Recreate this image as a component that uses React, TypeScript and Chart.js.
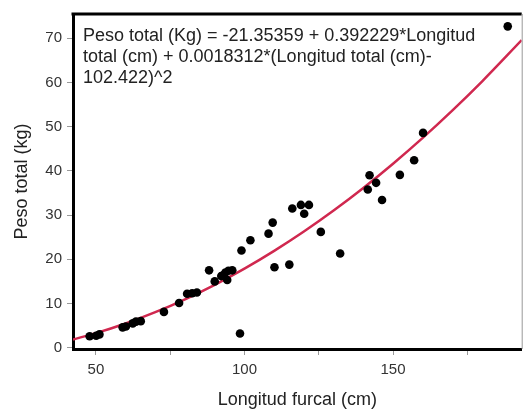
import React, { useEffect, useRef } from "react";
import { Chart, registerables } from "chart.js";

Chart.register(...registerables);

// Observed data: Longitud furcal (cm) vs Peso total (kg)
const lengthCm = [
  47.9, 50.1, 51.2, 59, 60.1, 62.4, 63.5, 65.1, 72.9, 78, 80.7, 82.4, 84,
  88.1, 90, 92.2, 92.8, 93.6, 94.2, 94.6, 95.9, 98.5, 99, 102, 108.1, 109.5,
  110.1, 115.1, 116.1, 119, 120.1, 121.7, 125.7, 132.2, 141.5, 142.1, 144.3,
  146.3, 152.3, 157.1, 160.1, 188.6,
];
const weightKg = [
  2.6, 2.7, 3.0, 4.6, 4.8, 5.5, 5.9, 6.0, 8.1, 10.1, 12.2, 12.3, 12.5,
  17.5, 15.0, 16.2, 16.4, 17.0, 15.3, 17.4, 17.5, 3.2, 22.0, 24.3, 25.8, 28.3,
  18.2, 18.8, 31.5, 32.3, 30.3, 32.3, 26.2, 21.3, 35.8, 39.0, 37.3,
  33.4, 39.1, 42.4, 48.6, 72.7,
];

// Fitted curve
const curveX = [42.3, 50, 60, 70, 80, 90, 100, 110, 120, 130, 140, 150, 160, 170, 180, 193.3];
const curveY = [1.86, 3.29, 5.48, 8.03, 10.95, 14.23, 17.88, 21.9, 26.28, 31.03, 36.14, 41.63, 47.47, 53.69, 60.27, 69.59];

const xTicks = [50, 75, 100, 125, 150, 175];
const xTickLabels = ["50", "", "100", "", "150", ""];
const yTicks = [0, 10, 20, 30, 40, 50, 60, 70];

const equationLines = [
  "Peso total (Kg) = -21.35359 + 0.392229*Longitud",
  "total (cm) + 0.0018312*(Longitud total (cm)-",
  "102.422)^2",
];

const FONT = "'Liberation Sans', Arial, Helvetica, sans-serif";

export default function App() {
  const ref = useRef<HTMLCanvasElement | null>(null);

  useEffect(() => {
    if (!ref.current) return;
    const framePlugin = {
      id: "frame",
      afterDraw(chart: any) {
        const { ctx, chartArea } = chart;
        ctx.save();
        ctx.strokeStyle = "#000";
        ctx.lineWidth = 3;
        ctx.beginPath();
        ctx.moveTo(chartArea.left - 1.5, chartArea.top);
        ctx.lineTo(chartArea.right, chartArea.top);
        ctx.stroke();
        ctx.strokeStyle = "#999";
        ctx.lineWidth = 1;
        ctx.beginPath();
        ctx.moveTo(chartArea.right + 0.5, chartArea.top);
        ctx.lineTo(chartArea.right + 0.5, chartArea.bottom);
        ctx.stroke();
        ctx.fillStyle = "#222";
        ctx.font = `18px ${FONT}`;
        ctx.textBaseline = "alphabetic";
        ctx.textAlign = "left";
        equationLines.forEach((line, i) => {
          ctx.fillText(line, chartArea.left + 10, 40.5 + i * 21.4);
        });
        ctx.restore();
      },
    };

    const chart = new Chart(ref.current, {
      type: "scatter",
      data: {
        datasets: [
          {
            type: "scatter",
            data: lengthCm.map((x, i) => ({ x, y: weightKg[i] })),
            backgroundColor: "#000",
            borderColor: "#000",
            pointRadius: 4.3,
            pointBorderWidth: 0,
            order: 1,
          },
          {
            type: "line",
            data: curveX.map((x, i) => ({ x, y: curveY[i] })),
            borderColor: "#d0284f",
            borderWidth: 2.5,
            pointRadius: 0,
            fill: false,
            cubicInterpolationMode: "monotone",
            order: 2,
          } as any,
        ],
      },
      options: {
        animation: false,
        responsive: false,
        layout: { padding: { top: 8, right: 1, left: 0, bottom: 0 } },
        plugins: { legend: { display: false }, tooltip: { enabled: false } },
        scales: {
          x: {
            type: "linear",
            min: 42.3,
            max: 193.3,
            afterBuildTicks: (s: any) => {
              s.ticks = xTicks.map((v) => ({ value: v }));
            },
            afterFit: (s: any) => {
              s.height = 66;
            },
            ticks: {
              callback: (v: any) => {
                const idx = xTicks.indexOf(Number(v));
                return idx >= 0 ? xTickLabels[idx] : "";
              },
              font: { family: FONT, size: 15 },
              color: "#333",
              padding: 6,
              maxRotation: 0,
              autoSkip: false,
            },
            grid: { drawOnChartArea: false, tickLength: 6, tickColor: "#999", color: "#999" },
            border: { display: true, color: "#000", width: 3 },
            title: {
              display: true,
              text: "Longitud furcal (cm)",
              font: { family: FONT, size: 18 },
              color: "#222",
              padding: { top: 0, bottom: 4 },
            },
          },
          y: {
            type: "linear",
            min: -0.3,
            max: 75.5,
            afterBuildTicks: (s: any) => {
              s.ticks = yTicks.map((v) => ({ value: v }));
            },
            afterFit: (s: any) => {
              s.width = 73;
            },
            ticks: {
              font: { family: FONT, size: 15 },
              color: "#333",
              padding: 5,
            },
            grid: { drawOnChartArea: false, tickLength: 6, tickColor: "#999", color: "#999" },
            border: { display: true, color: "#000", width: 3 },
            title: {
              display: true,
              text: "Peso total (kg)",
              font: { family: FONT, size: 18 },
              color: "#222",
              padding: { top: 11, bottom: 0 },
            },
          },
        },
      },
      plugins: [framePlugin],
    });
    return () => chart.destroy();
  }, []);

  return (
    <div style={{ position: "fixed", left: 0, top: 0, width: 526, height: 415, background: "#fff" }}>
      <canvas ref={ref} width={526} height={415} />
    </div>
  );
}
